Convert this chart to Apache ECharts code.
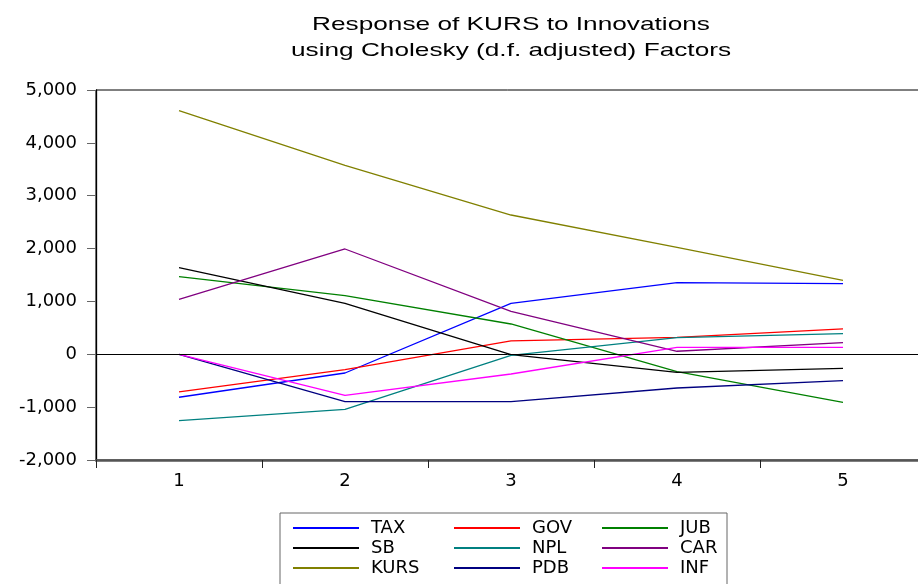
<!DOCTYPE html>
<html>
<head>
<meta charset="utf-8">
<style>
    html, body {
        margin: 0;
        padding: 0;
        background: #fff;
    }
    #chart {
        width: 918px;
        height: 584px;
    }
</style>
<script src="https://cdn.jsdelivr.net/npm/echarts@6/dist/echarts.min.js"></script>
</head>
<body>
<div id="chart"></div>
<script>
    // periods
    var categories = ['1', '2', '3', '4', '5'];
    // responses of KURS
    var tax = [-813, -354, 965, 1355, 1336];
    var gov = [-713, -291, 252, 321, 479];
    var jub = [1468, 1109, 573, -330, -908];
    var sb = [1638, 965, -5, -341, -265];
    var npl = [-1256, -1041, -19, 315, 390];
    var car = [1040, 1992, 813, 57, 220];
    var kurs = [4608, 3575, 2635, 2024, 1400];
    var pdb = [0, -896, -896, -638, -499];
    var inf = [0, -776, -373, 132, 132];
    var yTicks = [-2000, -1000, 0, 1000, 2000, 3000, 4000, 5000];
    var titleLines = ['Response of KURS to Innovations', 'using Cholesky (d.f. adjusted) Factors'];

    var seriesDefs = [
        { name: 'TAX', data: tax, color: '#0000ff' },
        { name: 'GOV', data: gov, color: '#ff0000' },
        { name: 'JUB', data: jub, color: '#008000' },
        { name: 'SB', data: sb, color: '#000000' },
        { name: 'NPL', data: npl, color: '#008080' },
        { name: 'CAR', data: car, color: '#800080' },
        { name: 'KURS', data: kurs, color: '#808000' },
        { name: 'PDB', data: pdb, color: '#000080' },
        { name: 'INF', data: inf, color: '#ff00ff' }
    ];

    var font = 'DejaVu Sans';
    var myChart = echarts.init(document.getElementById('chart'));

    var series = seriesDefs.map(function(s, i) {
        var item = {
            name: s.name,
            type: 'line',
            data: s.data,
            symbol: 'none',
            itemStyle: { color: s.color },
            lineStyle: { color: s.color, width: 1.3 }
        };
        if (i === 0) { // zero line
            item.markLine = {
                silent: true,
                symbol: ['none', 'none'],
                label: { show: false },
                lineStyle: { color: '#000', width: 1, type: 'solid' },
                data: [{ yAxis: 0 }]
            };
        }
        return item;
    });

    function legendCol(left, names) {
        return {
            orient: 'vertical',
            left: left,
            top: 519,
            padding: 0,
            itemGap: 2,
            itemWidth: 66,
            itemHeight: 2,
            icon: 'rect',
            selectedMode: false,
            data: names,
            textStyle: {
                fontFamily: font,
                fontSize: 18,
                lineHeight: 18,
                color: '#000',
                padding: [0, 0, 0, 7]
            }
        };
    }

    var option = {
        animation: false,
        backgroundColor: '#fff',
        grid: {
            show: true,
            left: 96,
            top: 90,
            width: 830,
            height: 370,
            outerBoundsMode: 'none',
            containLabel: false,
            borderColor: '#000',
            borderWidth: 1,
            backgroundColor: 'transparent'
        },
        legend: [
            legendCol(293, ['TAX', 'SB', 'KURS']),
            legendCol(454, ['GOV', 'NPL', 'PDB']),
            legendCol(602, ['JUB', 'CAR', 'INF'])
        ],
        graphic: [
            {
                type: 'rect',
                shape: { x: 280, y: 513, width: 447, height: 90 },
                style: { fill: 'none', stroke: '#666', lineWidth: 1 },
                silent: true
            },
            {
                type: 'text',
                x: 511,
                y: 25,
                scaleX: 1.38,
                style: {
                    text: titleLines[0],
                    font: '19px "Liberation Sans"',
                    fill: '#000',
                    align: 'center',
                    verticalAlign: 'middle'
                }
            },
            {
                type: 'text',
                x: 511,
                y: 51,
                scaleX: 1.38,
                style: {
                    text: titleLines[1],
                    font: '19px "Liberation Sans"',
                    fill: '#000',
                    align: 'center',
                    verticalAlign: 'middle'
                }
            }
        ],
        xAxis: {
            type: 'category',
            data: categories,
            boundaryGap: true,
            axisLine: { onZero: false, lineStyle: { color: '#555', width: 2.5 } },
            axisTick: { show: true, length: 8, lineStyle: { color: '#222' } },
            axisLabel: {
                margin: 12,
                fontFamily: font,
                fontSize: 18,
                color: '#000'
            },
            splitLine: { show: false }
        },
        yAxis: {
            type: 'value',
            min: yTicks[0],
            max: yTicks[yTicks.length - 1],
            interval: 1000,
            axisLine: { show: true, lineStyle: { color: '#000', width: 1.3 } },
            axisTick: { show: true, length: 9, lineStyle: { color: '#666' } },
            axisLabel: {
                margin: 19,
                fontFamily: font,
                fontSize: 18,
                color: '#000',
                formatter: function(v) {
                    return v.toLocaleString('en-US');
                }
            },
            splitLine: { show: false }
        },
        series: series
    };

    myChart.setOption(option);
</script>
</body>
</html>
